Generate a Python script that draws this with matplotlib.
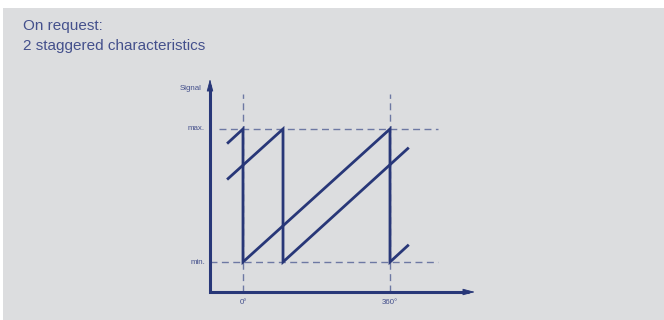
import matplotlib
matplotlib.use("Agg")
import matplotlib.pyplot as plt
from matplotlib.patches import Rectangle

# ---- data ----
title_lines = ["On request:", "2 staggered characteristics"]
x_tick_labels = ["0°", "360°"]
x_tick_positions = [0, 360]
y_level_labels = ["min.", "max."]
y_level_values = [0, 1]
y_axis_label = "Signal"

char1_x = [-39, 0, 0, 360, 360, 406]
char1_y = [0.89, 1.0, 0.0, 1.0, 0.0, 0.13]
char2_x = [-39, 98, 98, 406]
char2_y = [0.62, 1.0, 0.0, 0.86]

# ---- style ----
BG = "#dcdddf"
LINE = "#283778"
DASH = "#6d78a3"
TEXT = "#44508c"

W, H = 664, 320
fig = plt.figure(figsize=(W / 100, H / 100), dpi=100, facecolor="white")
fig.patches.append(Rectangle((3 / W, 0), 1 - 3 / W, (H - 8) / H,
                             transform=fig.transFigure, facecolor=BG,
                             edgecolor="none", zorder=-10))

ax = fig.add_axes([0, 0, 1, 1])
ax.set_zorder(5)
ax.set_facecolor("none")
ax.axis("off")
# pixel mapping: 0deg -> x=243px, 360deg -> x=390px ; v=0 -> y=262px, v=1 -> y=129px
sx = 147 / 360.0
sy = 133.0
ax.set_xlim(-243 / sx, (W - 243) / sx)
ax.set_ylim(-(H - 262) / sy, 262 / sy)

x0 = (210 - 243) / sx
y0 = -(292 - 262) / sy
x_end = (475 - 243) / sx
y_end = (262 - 79) / sy
dash_right = (438 - 243) / sx
dash_top = (262 - 94) / sy
max_left = (219 - 243) / sx

dash_kw = dict(color=DASH, lw=1.0, dashes=(5, 3.2), zorder=1)
# horizontal reference lines
ax.plot([max_left, dash_right], [y_level_values[1]] * 2, **dash_kw)
ax.plot([x0, dash_right], [y_level_values[0]] * 2, **dash_kw)
# vertical reference lines
for xp in x_tick_positions:
    ax.plot([xp, xp], [y0, dash_top], **dash_kw)

# characteristics
ax.plot(char1_x, char1_y, color=LINE, lw=2.0, solid_joinstyle="miter",
        solid_capstyle="butt", zorder=3)
ax.plot(char2_x, char2_y, color=LINE, lw=2.0, solid_joinstyle="miter",
        solid_capstyle="butt", zorder=3)

# axes with arrows
ax.plot([x0, x0, x_end - 6 / sx], [y_end - 6 / sy, y0, y0], color=LINE, lw=2.2,
        solid_joinstyle="miter", solid_capstyle="butt", zorder=4)
arrow_style = "-|>,head_length=0.75,head_width=0.2"
ax.annotate("", xy=(x0, y_end), xytext=(x0, y_end - 20 / sy),
            arrowprops=dict(arrowstyle=arrow_style, color=LINE, lw=0.6,
                            shrinkA=0, shrinkB=0, mutation_scale=10), zorder=5)
ax.annotate("", xy=(x_end, y0), xytext=(x_end - 20 / sx, y0),
            arrowprops=dict(arrowstyle=arrow_style, color=LINE, lw=0.6,
                            shrinkA=0, shrinkB=0, mutation_scale=10), zorder=5)

# labels
small = dict(color=TEXT, fontsize=5.7, family="Liberation Sans")
for lab, v in zip(y_level_labels, y_level_values):
    ax.text((205 - 243) / sx, v, lab, ha="right", va="center", **small)
ax.text((202 - 243) / sx, (262 - 89) / sy, y_axis_label, ha="right",
        va="center", **small)
for lab, xp in zip(x_tick_labels, x_tick_positions):
    ax.text(xp, -(302 - 262) / sy, lab, ha="center", va="center", **small)

# title
fig.text(23 / W, 1 - 26 / H, title_lines[0], ha="left", va="center",
         color=TEXT, fontsize=11, family="Liberation Sans")
fig.text(23 / W, 1 - 46 / H, title_lines[1], ha="left", va="center",
         color=TEXT, fontsize=11, family="Liberation Sans")

fig.savefig("out.png", dpi=100, facecolor="white")
